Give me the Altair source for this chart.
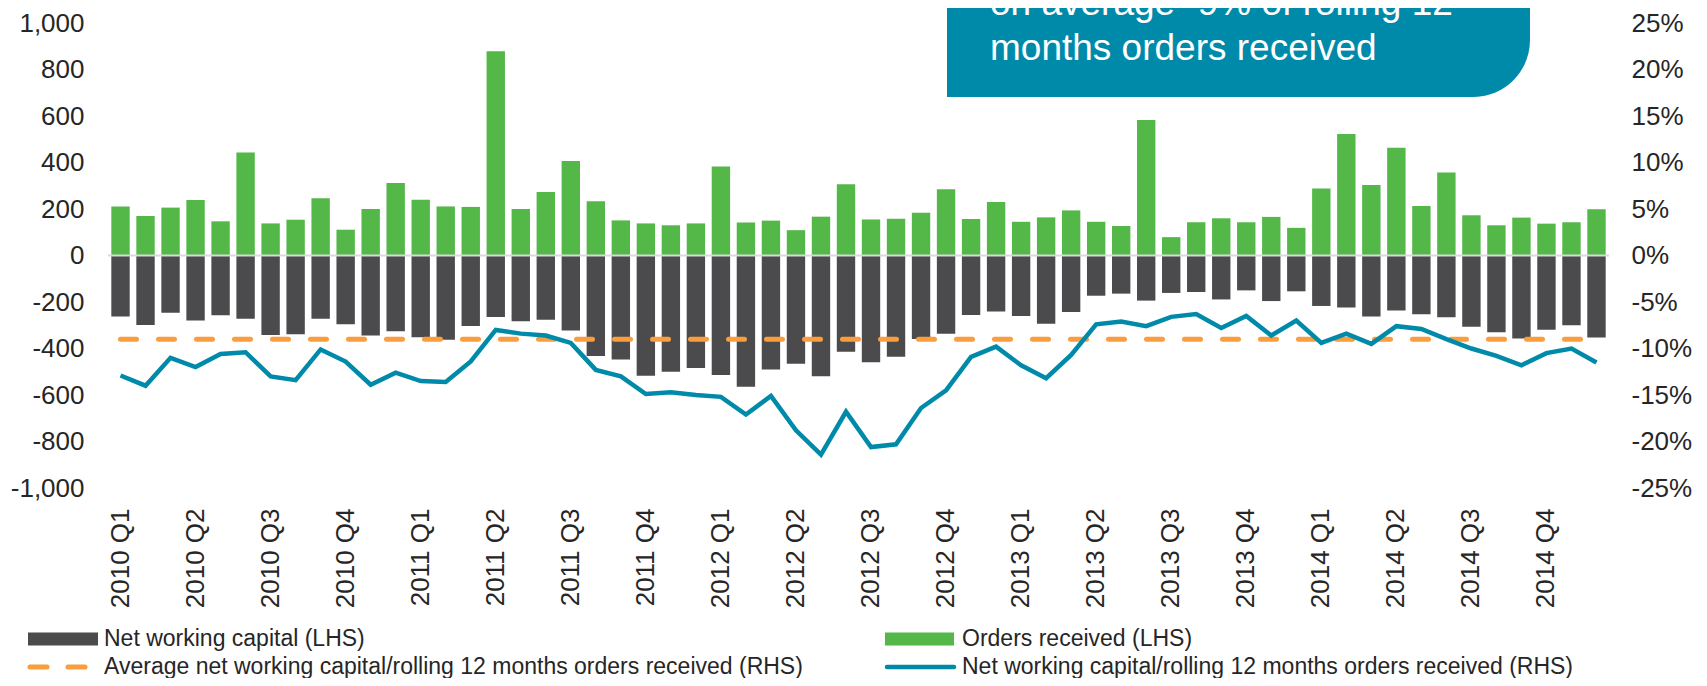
import altair as alt
import pandas as pd

# ---------------- data ----------------
quarter_labels = [
    "2010 Q1", "2010 Q2", "2010 Q3", "2010 Q4",
    "2011 Q1", "2011 Q2", "2011 Q3", "2011 Q4",
    "2012 Q1", "2012 Q2", "2012 Q3", "2012 Q4",
    "2013 Q1", "2013 Q2", "2013 Q3", "2013 Q4",
    "2014 Q1", "2014 Q2", "2014 Q3", "2014 Q4",
]

orders_received = [
    211, 170, 206, 239, 147, 443, 138, 154, 246, 111,
    200, 312, 240, 211, 209, 879, 200, 273, 406, 233,
    151, 138, 130, 138, 383, 142, 150, 109, 167, 306,
    155, 158, 184, 285, 157, 230, 145, 164, 194, 145,
    127, 583, 79, 143, 160, 143, 166, 119, 288, 523,
    303, 463, 213, 357, 173, 130, 163, 137, 143, 199,
]

net_working_capital = [
    -262, -299, -246, -280, -257, -272, -342, -339, -272, -296,
    -344, -326, -352, -362, -303, -264, -283, -276, -323, -432,
    -447, -517, -500, -484, -514, -564, -490, -466, -519, -414,
    -459, -436, -359, -337, -256, -241, -260, -294, -243, -173,
    -164, -194, -161, -157, -189, -150, -196, -154, -217, -224,
    -262, -237, -253, -266, -306, -330, -357, -319, -300, -353,
]

nwc_ratio_pct = [
    -12.9, -14.0, -11.0, -12.0, -10.6, -10.4, -13.0, -13.4, -10.1, -11.4,
    -13.9, -12.6, -13.5, -13.6, -11.4, -8.0, -8.4, -8.6, -9.4, -12.3,
    -13.0, -14.9, -14.7, -15.0, -15.2, -17.1, -15.1, -18.8, -21.4, -16.8,
    -20.6, -20.3, -16.4, -14.5, -10.9, -9.8, -11.8, -13.2, -10.7, -7.4,
    -7.1, -7.6, -6.6, -6.3, -7.8, -6.5, -8.6, -7.0, -9.4, -8.4,
    -9.5, -7.6, -7.9, -9.0, -10.0, -10.8, -11.8, -10.5, -10.0, -11.5,
]

avg_ratio_pct = -9.0

left_ticks = [-1000, -800, -600, -400, -200, 0, 200, 400, 600, 800, 1000]
right_ticks = [-25, -20, -15, -10, -5, 0, 5, 10, 15, 20, 25]

legend_labels = [
    "Net working capital (LHS)",
    "Orders received (LHS)",
    "Average net working capital/rolling 12 months orders received (RHS)",
    "Net working capital/rolling 12 months orders received (RHS)",
]
note_lines = ["on average -9% of rolling 12", "months orders received"]

# ---------------- table ----------------
n = len(orders_received)
df = pd.DataFrame({
    "idx": list(range(n)),
    "orders": orders_received,
    "nwc": net_working_capital,
    "ratio": nwc_ratio_pct,
    "avg": [avg_ratio_pct] * n,
})

# ---------------- style ----------------
W, H = 1501, 465
FONT = "Liberation Sans"
TXT = "#262626"
DARK = "#4b4b4d"
GREEN = "#53b848"
TEAL = "#008aa9"
ORANGE = "#f99d3e"

label_expr_x = "[" + ",".join("'%s'" % q for q in quarter_labels) + "][datum.value / 3]"

x_enc = alt.X(
    "idx:O",
    scale=alt.Scale(type="band", paddingInner=0.265, paddingOuter=0.1325),
    axis=alt.Axis(
        values=list(range(0, n, 3)), labelExpr=label_expr_x,
        labelAngle=270, labelAlign="right", labelBaseline="middle",
        labelPadding=20, ticks=False, tickSize=0, domain=False, grid=False,
        labelFontSize=26, labelFont=FONT, labelColor=TXT, title=None,
        labelOverlap=False,
    ),
)

left_scale = alt.Scale(domain=[-1000, 1000], nice=False)
left_axis = alt.Axis(
    orient="left", values=left_ticks,
    labelExpr="(datum.value < 0 ? '-' : '') + format(abs(datum.value), ',')",
    labelPadding=24, ticks=False, tickSize=0, domain=False, grid=False,
    labelFontSize=26, labelFont=FONT, labelColor=TXT, title=None,
)
right_scale = alt.Scale(domain=[-25, 25], nice=False)
right_axis = alt.Axis(
    orient="right", values=right_ticks,
    labelExpr="(datum.value < 0 ? '-' : '') + abs(datum.value) + '%'",
    labelPadding=22, ticks=False, tickSize=0, domain=False, grid=False,
    labelFontSize=26, labelFont=FONT, labelColor=TXT, title=None,
    labelAlign="left",
)

base = alt.Chart(df)

nwc_bars = base.mark_bar(color=DARK).encode(
    x=x_enc, y=alt.Y("nwc:Q", scale=left_scale, axis=left_axis))
ord_bars = base.mark_bar(color=GREEN).encode(
    x=x_enc, y=alt.Y("orders:Q", scale=left_scale, axis=left_axis))
zero_rule = alt.Chart(pd.DataFrame({"v": [0]})).mark_rule(
    color="#d9d9d9", strokeWidth=2).encode(
    y=alt.Y("v:Q", scale=left_scale, axis=left_axis))

left = alt.layer(nwc_bars, ord_bars, zero_rule)

avg_line = base.mark_line(
    color=ORANGE, strokeWidth=5, strokeDash=[16, 22], strokeCap="round").encode(
    x=x_enc, y=alt.Y("avg:Q", scale=right_scale, axis=right_axis))
ratio_line = base.mark_line(color=TEAL, strokeWidth=4.5).encode(
    x=x_enc, y=alt.Y("ratio:Q", scale=right_scale, axis=right_axis))

right = alt.layer(avg_line, ratio_line)

one = alt.Data(values=[{"a": 1}])

# annotation box
note_box = alt.Chart(one).mark_rect(
    color=TEAL, cornerRadiusBottomRight=60).encode(
    x=alt.value(839), x2=alt.value(1422), y=alt.value(-40), y2=alt.value(74))
note_txt = [
    alt.Chart(one).mark_text(
        text=t, align="left", baseline="alphabetic", font=FONT,
        fontSize=37, color="white").encode(x=alt.value(882), y=alt.value(yy))
    for t, yy in zip(note_lines, [-8, 37])
]

# manual legend
LG_FS = 23
ROW1, ROW2 = 616, 644
leg = []
leg.append(alt.Chart(one).mark_rect(color=DARK).encode(
    x=alt.value(-80), x2=alt.value(-10), y=alt.value(ROW1 - 6.5), y2=alt.value(ROW1 + 6.5)))
leg.append(alt.Chart(one).mark_rect(color=GREEN).encode(
    x=alt.value(777), x2=alt.value(846), y=alt.value(ROW1 - 6.5), y2=alt.value(ROW1 + 6.5)))
leg.append(alt.Chart(one).mark_rule(
    color=ORANGE, strokeWidth=5, strokeDash=[17, 21], strokeCap="round").encode(
    x=alt.value(-78), x2=alt.value(-22), y=alt.value(ROW2)))
leg.append(alt.Chart(one).mark_rule(
    color=TEAL, strokeWidth=4.5, strokeCap="round").encode(
    x=alt.value(779), x2=alt.value(846), y=alt.value(ROW2)))
for lab, xx, yy in zip(legend_labels, [-4, 854, -4, 854], [ROW1, ROW1, ROW2, ROW2]):
    leg.append(alt.Chart(one).mark_text(
        text=lab, align="left", baseline="middle", font=FONT,
        fontSize=LG_FS, color=TXT).encode(x=alt.value(xx), y=alt.value(yy)))

chart = alt.layer(left, right, note_box, *note_txt, *leg).resolve_scale(
    y="independent"
).properties(
    width=W, height=H,
    autosize=alt.AutoSizeParams(type="none"),
    padding={"left": 100, "top": 15, "right": 90, "bottom": 190},
).configure_view(stroke=None)

chart.save("out.html", embed_options={"renderer": "svg", "actions": False})
